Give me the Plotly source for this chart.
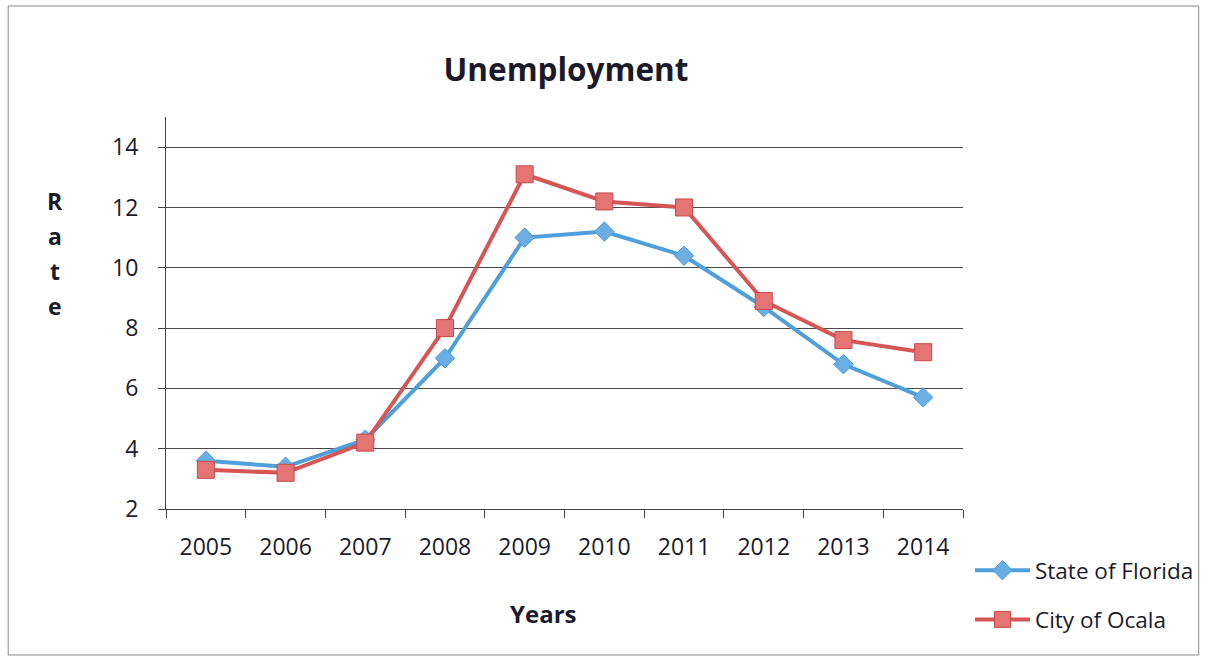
import plotly.graph_objects as go

years = ["2005", "2006", "2007", "2008", "2009", "2010", "2011", "2012", "2013", "2014"]
florida = [3.6, 3.4, 4.3, 7.0, 11.0, 11.2, 10.4, 8.7, 6.8, 5.7]
ocala = [3.3, 3.2, 4.2, 8.0, 13.1, 12.2, 12.0, 8.9, 7.6, 7.2]
y_ticks = [2, 4, 6, 8, 10, 12, 14]

FONT = "Open Sans"
L, R, T, B = 166, 246, 117, 149
W, H = 1210, 658
pw, ph = W - L - R, H - T - B

def px2x(px):
    return (px - L) / pw

def py2y(py):
    return (H - B - py) / ph

fig = go.Figure()
fig.add_trace(go.Scatter(
    x=years, y=florida, name="State of Florida", mode="lines+markers",
    legendgroup="a",
    line=dict(color="#4f9fda", width=4),
    marker=dict(symbol="diamond", size=15, color="#6aaee3", line=dict(color="#4f9fda", width=1)),
))
fig.add_trace(go.Scatter(
    x=years, y=ocala, name="City of Ocala", mode="lines+markers",
    legendgroup="b",
    line=dict(color="#d65656", width=4),
    marker=dict(symbol="square", size=17, color="#e57575", line=dict(color="#c84848", width=1)),
))

fig.update_layout(
    width=W, height=H,
    margin=dict(l=L, r=R, t=T, b=B),
    paper_bgcolor="white", plot_bgcolor="white",
    font=dict(family=FONT, color="#1a1a2a", size=23),
    title=dict(text="<b>Unemployment</b>", x=566 / W, xanchor="center",
               y=1 - 70 / H, yanchor="middle", font=dict(size=31.5, family=FONT, color="#1a1a2a")),
    showlegend=True,
    legend=dict(x=px2x(970), xanchor="left", y=py2y(549), yanchor="top",
                font=dict(size=22.5, family=FONT, color="#1a1a2a"),
                itemwidth=55,
                traceorder="grouped", tracegroupgap=17, bgcolor="rgba(0,0,0,0)"),
)

fig.update_xaxes(
    type="category", categoryorder="array", categoryarray=years,
    showline=True, linecolor="#444444", linewidth=1,
    ticks="outside", tickson="boundaries", ticklen=8, tickcolor="#444444",
    showgrid=False, tickfont=dict(size=23, family=FONT), ticklabelstandoff=17,
    range=[-0.5, 9.5],
)
fig.update_yaxes(
    range=[2, 15], tickvals=y_ticks, ticktext=[str(v) for v in y_ticks],
    showline=True, linecolor="#444444", linewidth=1,
    ticks="outside", ticklen=7, tickcolor="#444444",
    showgrid=True, gridcolor="#4a4a4a", gridwidth=1, zeroline=False,
    tickfont=dict(size=23, family=FONT), ticklabelstandoff=15,
)

# y-axis title stacked letters
for i, ch in enumerate(["R", "a", "t", "e"]):
    fig.add_annotation(text=f"<b>{ch}</b>", xref="paper", yref="paper",
                       x=px2x(55), y=py2y(201 + i * 35), showarrow=False,
                       xanchor="center", yanchor="middle",
                       font=dict(size=23, family=FONT, color="#1a1a2a"))

fig.add_annotation(text="<b>Years</b>", xref="paper", yref="paper",
                   x=px2x(544), y=py2y(613), showarrow=False,
                   xanchor="center", yanchor="middle",
                   font=dict(size=24, family=FONT, color="#1a1a2a"))

# chart border
fig.add_shape(type="rect", xref="paper", yref="paper",
              x0=px2x(8), x1=px2x(1200), y0=py2y(655), y1=py2y(6),
              line=dict(color="#888888", width=1), layer="below")

fig.write_html("out.html")
